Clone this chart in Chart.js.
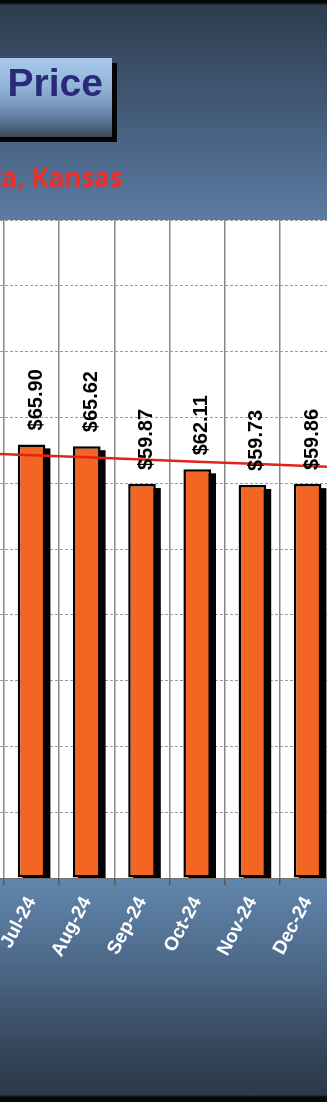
<!DOCTYPE html>
<html>
<head>
<meta charset="utf-8">
<script src="https://cdn.jsdelivr.net/npm/chart.js@4.4.0/dist/chart.umd.min.js"></script>
<style>
    html, body { margin: 0; padding: 0; }
    body {
        width: 327px; height: 1102px; overflow: hidden; position: relative;
        background: linear-gradient(to bottom,
            #07090c 0px, #07090c 3px, #2e3c4e 5px, #3f5570 90px, #506d90 170px,
            #5b7ba0 218px, #6186ac 880px, #4e6a8a 960px, #374a60 1040px,
            #2b3848 1095px, #07090c 1097px, #07090c 1102px);
    }
    #wrap { position: absolute; left: 0; top: 0; width: 327px; height: 1102px; }
    #titleBox {
        position: absolute; left: -40px; top: 58px; width: 152px; height: 79px;
        background: linear-gradient(to bottom, #a8c9ea 0%, #92b5d9 35%, #7798bb 60%, #56708e 82%, #3a4859 100%);
        box-shadow: 5px 5px 0 #040507;
    }
    #title {
        position: absolute; right: 224px; top: 63px; white-space: nowrap;
        font: bold 39px "Liberation Sans", Arial, sans-serif; line-height: 39px;
        color: #2a2a78;
    }
    #subtitle {
        position: absolute; right: 204px; top: 164px; white-space: nowrap;
        font: 700 26px "Open Sans", sans-serif; line-height: 26px;
        color: #e8302c;
    }
</style>
</head>
<body>
<div id="wrap"><canvas id="priceChart"></canvas></div>
<div id="titleBox"></div>
<div id="title">Price</div>
<div id="subtitle">Wichita, Kansas</div>
<script>
// Oylar va narxlar
const months = ['Jul-24', 'Aug-24', 'Sep-24', 'Oct-24', 'Nov-24', 'Dec-24'];
const prices = [65.90, 65.62, 59.87, 62.11, 59.73, 59.86];

// Trend chizig'i (oy indeksi bo'yicha)
const trendIndex = [-1, 0, 1, 2, 3, 4, 5, 6];
const trendValues = [64.58, 64.25, 63.93, 63.60, 63.27, 62.95, 62.62, 62.30];

// Ko'rinadigan oraliq (kesilgan grafik)
const xMin = -0.5725;
const xMax = 5.3514;

// Oq fon
const plotBackground = {
    id: 'plotBackground',
    beforeDraw(chart) {
        const { ctx, chartArea } = chart;
        ctx.save();
        ctx.fillStyle = '#ffffff';
        ctx.fillRect(chartArea.left, chartArea.top, chartArea.width, chartArea.height);
        ctx.restore();
    }
};

// Ustunlar soyasi (ustun elementlaridan olinadi)
const barShadow = {
    id: 'barShadow',
    beforeDatasetDraw(chart, args) {
        if (args.meta.type !== 'bar') return;
        const { ctx, chartArea } = chart;
        ctx.save();
        ctx.beginPath();
        ctx.rect(chartArea.left, chartArea.top, chartArea.width, chartArea.height);
        ctx.clip();
        ctx.fillStyle = '#000000';
        args.meta.data.forEach(bar => {
            const p = bar.getProps(['x', 'y', 'base', 'width'], true);
            ctx.fillRect(p.x - p.width / 2 + 5, p.y + 4, p.width, p.base - p.y);
        });
        ctx.restore();
    }
};

// Qiymat yozuvlari
const valueLabels = {
    id: 'valueLabels',
    afterDatasetsDraw(chart) {
        const ctx = chart.ctx;
        chart.data.datasets.forEach((ds, di) => {
            const meta = chart.getDatasetMeta(di);
            if (meta.type !== 'bar') return;
            meta.data.forEach((bar, i) => {
                ctx.save();
                ctx.translate(bar.x + 10, bar.y - 14);
                ctx.rotate(-Math.PI / 2);
                ctx.font = 'bold 20px "Liberation Sans", Arial, sans-serif';
                ctx.fillStyle = '#000000';
                ctx.textAlign = 'left';
                ctx.textBaseline = 'alphabetic';
                ctx.fillText('$' + prices[i].toFixed(2), 0, 0);
                ctx.restore();
            });
        });
    }
};

const ctx = document.getElementById('priceChart');

new Chart(ctx, {
    type: 'bar',
    data: {
        datasets: [
            {
                type: 'line',
                label: 'Trend',
                data: trendIndex.map((x, i) => ({ x: x, y: trendValues[i] })),
                borderColor: '#e3221c',
                borderWidth: 2.5,
                pointRadius: 0,
                tension: 0,
                order: 0
            },
            {
                type: 'bar',
                label: 'Price',
                data: prices.map((v, i) => ({ x: i, y: v })),
                backgroundColor: '#f26522',
                borderColor: '#000000',
                borderWidth: 2.5,
                borderSkipped: false,
                categoryPercentage: 1,
                barPercentage: 0.5,
                order: 1
            }
        ]
    },
    options: {
        responsive: true,
        maintainAspectRatio: false,
        animation: false,
        layout: {
            padding: { top: 220, left: 0, right: 0, bottom: 0 }
        },
        plugins: {
            legend: { display: false },
            title: { display: false },
            tooltip: { enabled: false }
        },
        scales: {
            x: {
                type: 'linear',
                min: xMin,
                max: xMax,
                bounds: 'data',
                offset: false,
                afterBuildTicks: (scale) => {
                    scale.ticks = months.map((m, i) => ({ value: i }));
                },
                afterFit: (scale) => {
                    scale.height = 224;
                    scale.paddingLeft = 0;
                    scale.paddingRight = 0;
                },
                grid: {
                    offset: true,
                    color: '#888888',
                    lineWidth: 1.5,
                    tickLength: 7,
                    tickColor: '#555555'
                },
                border: { display: true, color: '#707070', width: 1 },
                ticks: {
                    autoSkip: false,
                    minRotation: 62,
                    maxRotation: 62,
                    padding: 8,
                    color: '#ffffff',
                    font: { family: 'Liberation Sans', size: 19, weight: 'bold' },
                    callback: (value) => months[value]
                }
            },
            y: {
                min: 0,
                max: 100,
                afterFit: (scale) => {
                    scale.width = 0;
                },
                ticks: { display: false, stepSize: 10 },
                grid: { color: '#9b9b9b', lineWidth: 1, drawTicks: false },
                border: { display: false, dash: [3, 2] }
            }
        }
    },
    plugins: [plotBackground, barShadow, valueLabels]
});
</script>
</body>
</html>
